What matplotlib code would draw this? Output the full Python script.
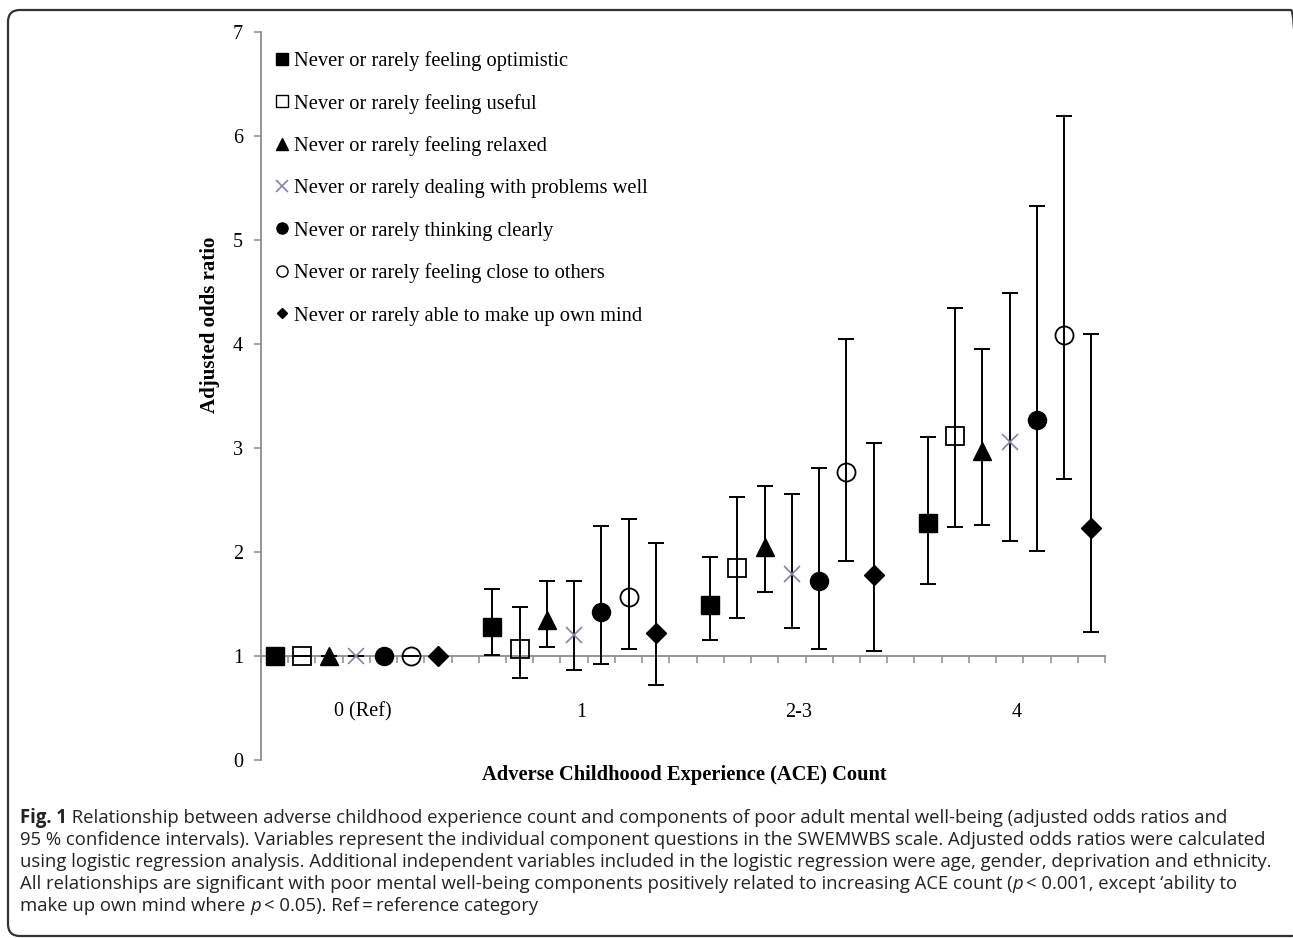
import matplotlib
matplotlib.use("Agg")
import matplotlib.pyplot as plt
from matplotlib.lines import Line2D
from matplotlib.patches import FancyBboxPatch
from matplotlib.transforms import IdentityTransform

groups = ["0 (Ref)", "1", "2-3", "4"]
series = [
    "Never or rarely feeling optimistic",
    "Never or rarely feeling useful",
    "Never or rarely feeling relaxed",
    "Never or rarely dealing with problems well",
    "Never or rarely thinking clearly",
    "Never or rarely feeling close to others",
    "Never or rarely able to make up own mind",
]
# odds ratios per series, per group
or_optimistic = [1.0, 1.28, 1.49, 2.28]
or_useful     = [1.0, 1.07, 1.85, 3.12]
or_relaxed    = [1.0, 1.35, 2.05, 2.97]
or_problems   = [1.0, 1.20, 1.79, 3.06]
or_clearly    = [1.0, 1.42, 1.72, 3.27]
or_close      = [1.0, 1.57, 2.77, 4.09]
or_mind       = [1.0, 1.22, 1.78, 2.23]
# lower 95% CI
lo_optimistic = [1.0, 1.01, 1.15, 1.69]
lo_useful     = [1.0, 0.79, 1.37, 2.24]
lo_relaxed    = [1.0, 1.09, 1.62, 2.26]
lo_problems   = [1.0, 0.87, 1.27, 2.11]
lo_clearly    = [1.0, 0.92, 1.07, 2.01]
lo_close      = [1.0, 1.07, 1.91, 2.70]
lo_mind       = [1.0, 0.72, 1.05, 1.23]
# upper 95% CI
hi_optimistic = [1.0, 1.64, 1.95, 3.11]
hi_useful     = [1.0, 1.47, 2.53, 4.35]
hi_relaxed    = [1.0, 1.72, 2.63, 3.95]
hi_problems   = [1.0, 1.72, 2.56, 4.49]
hi_clearly    = [1.0, 2.25, 2.81, 5.33]
hi_close      = [1.0, 2.32, 4.05, 6.19]
hi_mind       = [1.0, 2.09, 3.05, 4.10]

ors = [or_optimistic, or_useful, or_relaxed, or_problems, or_clearly, or_close, or_mind]
los = [lo_optimistic, lo_useful, lo_relaxed, lo_problems, lo_clearly, lo_close, lo_mind]
his = [hi_optimistic, hi_useful, hi_relaxed, hi_problems, hi_clearly, hi_close, hi_mind]

purple = "#8a7fa6"
styles = [
    dict(marker="s", mfc="black", mec="black", ms=12.5, mew=1.0),
    dict(marker="s", mfc="none", mec="black", ms=12.5, mew=1.3),
    dict(marker="^", mfc="black", mec="black", ms=13, mew=1.0),
    dict(marker="x", mfc="none", mec=purple, ms=12, mew=1.2),
    dict(marker="o", mfc="black", mec="black", ms=13, mew=1.0),
    dict(marker="o", mfc="none", mec="black", ms=13, mew=1.3),
    dict(marker="D", mfc="black", mec="black", ms=10, mew=1.0),
]
leg_sizes = [8, 8, 8, 8.5, 8, 8, 5.5]

serif = ["Liberation Serif", "DejaVu Serif"]

W, H = 1293, 938
fig = plt.figure(figsize=(W / 100, H / 100), dpi=100)
ax = fig.add_axes([261 / W, 1 - 760 / H, (1105 - 261) / W, (760 - 32) / H])

nser = len(series)
nslots = len(groups) * (nser + 1) - 1

for j in range(nser):
    xs = [g * (nser + 1) + j + 0.5 for g in range(len(groups))]
    yv = ors[j]
    lower = [y - l for y, l in zip(yv, los[j])]
    upper = [h - y for y, h in zip(yv, his[j])]
    ax.errorbar(xs, yv, yerr=[lower, upper], fmt="none", ecolor="black",
                elinewidth=1.4, capsize=5.5, capthick=1.4, zorder=3)
    ax.plot(xs, yv, ls="none", zorder=4, **styles[j])

ax.set_xlim(0, nslots)
ax.set_ylim(0, 7)

for s in ["top", "right"]:
    ax.spines[s].set_visible(False)
ax.spines["left"].set_color("#8c8c8c")
ax.spines["left"].set_linewidth(1.3)
ax.spines["bottom"].set_position(("data", 1))
ax.spines["bottom"].set_color("#8c8c8c")
ax.spines["bottom"].set_linewidth(1.3)

ax.set_xticks(range(0, nslots + 1))
ax.set_xticklabels([])
ax.tick_params(axis="x", direction="out", length=5, width=1.1, color="#8c8c8c")
ax.set_yticks(range(0, 8))
ax.tick_params(axis="y", direction="out", length=5, width=1.1, color="#8c8c8c",
               labelsize=14.5, pad=8)
for lab in ax.get_yticklabels():
    lab.set_fontfamily(serif)

for g, name in enumerate(groups):
    ax.text(g * (nser + 1) + 3.75, 0.46, name, ha="center", va="center",
            fontsize=14.5, family=serif)

handles = [Line2D([], [], ls="none", marker=st["marker"], mfc=st["mfc"], mec=st["mec"],
                  mew=st["mew"] if st["marker"] == "x" else 1.0, ms=ms)
           for st, ms in zip(styles, leg_sizes)]
leg = ax.legend(handles, series, loc="upper left", bbox_to_anchor=(0.018, 0.974),
                frameon=False, handlelength=0.6, handletextpad=0.25, labelspacing=1.11,
                borderpad=0, borderaxespad=0, prop={"family": serif, "size": 14.8})

fig.text(210 / W, 1 - 325 / H, "Adjusted odds ratio", rotation=90, ha="center", va="center",
         fontsize=15, fontweight="bold", family=serif)
fig.text(684 / W, 1 - 775 / H, "Adverse Childhoood Experience (ACE) Count", ha="center",
         va="center", fontsize=14.8, fontweight="bold", family=serif)

# frame (pixel coordinates, origin bottom-left)
frame = FancyBboxPatch((8, 2), 1303 - 8, (H - 10) - 2,
                       boxstyle="round,pad=0,rounding_size=12", transform=IdentityTransform(),
                       fill=False, edgecolor="#333333", linewidth=1.6, clip_on=False)
fig.patches.append(frame)

# caption
cap_font = ["Open Sans", "DejaVu Sans"]
cap_size = 13.35
lines = [
    [("Fig. 1", "bold", "normal"), (" Relationship between adverse childhood experience count and components of poor adult mental well-being (adjusted odds ratios and", "normal", "normal")],
    [("95 % confidence intervals). Variables represent the individual component questions in the SWEMWBS scale. Adjusted odds ratios were calculated", "normal", "normal")],
    [("using logistic regression analysis. Additional independent variables included in the logistic regression were age, gender, deprivation and ethnicity.", "normal", "normal")],
    [("All relationships are significant with poor mental well-being components positively related to increasing ACE count (", "normal", "normal"), ("p", "normal", "italic"), ("\u2009< 0.001, except \u2018ability to", "normal", "normal")],
    [("make up own mind where ", "normal", "normal"), ("p", "normal", "italic"), ("\u2009< 0.05). Ref\u2009=\u2009reference category", "normal", "normal")],
]
fig.canvas.draw()
renderer = fig.canvas.get_renderer()
y0 = 818
for i, pieces in enumerate(lines):
    x = 20
    y = y0 + i * 22
    for txt, wt, st in pieces:
        t = fig.text(x / W, 1 - y / H, txt, ha="left", va="center", fontsize=cap_size,
                     fontweight=wt, fontstyle=st, family=cap_font, color="#222222")
        bb = t.get_window_extent(renderer)
        x += bb.width

fig.savefig("out.png", dpi=100)
